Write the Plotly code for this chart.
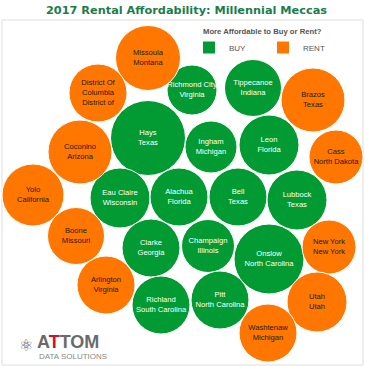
import plotly.graph_objects as go

# ---- data ----
counties = ["Missoula", "District Of<br>Columbia", "Richmond City", "Tippecanoe", "Brazos",
            "Hays", "Ingham", "Leon", "Coconino", "Cass",
            "Yolo", "Eau Claire", "Alachua", "Bell", "Lubbock",
            "Boone", "Clarke", "Champaign", "Onslow", "New York",
            "Arlington", "Richland", "Pitt", "Utah", "Washtenaw"]
states = ["Montana", "District of", "Virginia", "Indiana", "Texas",
          "Texas", "Michigan", "Florida", "Arizona", "North Dakota",
          "California", "Wisconsin", "Florida", "Texas", "Texas",
          "Missouri", "Georgia", "Illinois", "North Carolina", "New York",
          "Virginia", "South Carolina", "North Carolina", "Utah", "Michigan"]
status = ["RENT", "RENT", "BUY", "BUY", "RENT",
          "BUY", "BUY", "BUY", "RENT", "RENT",
          "RENT", "BUY", "BUY", "BUY", "BUY",
          "RENT", "BUY", "BUY", "BUY", "RENT",
          "RENT", "BUY", "BUY", "RENT", "RENT"]
# packed-bubble layout positions (pack units)
pack_x = [148, 98, 192, 253, 313,
          148, 211, 269, 80, 336,
          33, 120, 179, 238, 297,
          76, 151, 208, 269, 329,
          106, 161, 220, 317, 268]
pack_y = [58, 93, 90, 88, 100,
          138, 147, 145, 152, 157,
          195, 198, 197, 197, 200,
          236, 248, 246, 259, 247,
          285, 305, 300, 302, 333]
bubble_value = [1056, 841, 625, 812, 1024,
                1406, 676, 900, 1024, 729,
                961, 900, 841, 841, 900,
                812, 841, 702, 1225, 729,
                841, 841, 841, 900, 841]
legend_groups = ["BUY", "RENT"]

colors = {"BUY": "#029b33", "RENT": "#ff7700"}
text_colors = {"BUY": "#ffffff", "RENT": "#231a12"}

fig = go.Figure()

for grp in legend_groups:
    idx = [i for i, s in enumerate(status) if s == grp]
    fig.add_trace(go.Scatter(
        x=[pack_x[i] for i in idx],
        y=[pack_y[i] for i in idx],
        mode="markers+text",
        text=[counties[i] + "<br>" + states[i] for i in idx],
        textposition="middle center",
        textfont=dict(family="Liberation Sans, Arial", size=7.6, color=text_colors[grp]),
        marker=dict(size=[bubble_value[i] for i in idx], sizemode="area", sizeref=0.5,
                    color=colors[grp], line=dict(color="white", width=1), opacity=1),
        showlegend=False, hoverinfo="text", name=grp,
    ))
for grp in legend_groups:
    fig.add_trace(go.Scatter(
        x=[None], y=[None], mode="markers", name=grp,
        marker=dict(symbol="square", size=11, color=colors[grp]),
        showlegend=True,
    ))

fig.update_layout(
    width=365, height=366,
    margin=dict(l=0, r=0, t=0, b=0, autoexpand=False),
    paper_bgcolor="white", plot_bgcolor="white",
    xaxis=dict(range=[0, 365], visible=False, fixedrange=True),
    yaxis=dict(range=[366, 0], visible=False, fixedrange=True),
    legend=dict(
        orientation="h", x=189 / 365, y=1 - 33 / 366, xanchor="left", yanchor="top",
        font=dict(family="Liberation Sans, Arial", size=8, color="#555555"),
        entrywidth=29, itemwidth=30, bgcolor="rgba(0,0,0,0)",
        tracegroupgap=0, itemsizing="constant",
    ),
    shapes=[dict(type="rect", xref="paper", yref="paper",
                 x0=2 / 365, x1=363 / 365, y0=1 / 366, y1=1 - 20 / 366,
                 line=dict(color="#dddddd", width=1), layer="below")],
    annotations=[
        dict(text="<b>2017 Rental Affordability: Millennial Meccas</b>",
             xref="paper", yref="paper", x=186 / 365, y=1 - 10 / 366, xanchor="center", yanchor="middle",
             showarrow=False, font=dict(family="DejaVu Sans", size=11.3, color="#1b7c4c")),
        dict(text="<b>More Affordable to Buy or Rent?</b>", xref="paper", yref="paper",
             x=201 / 365, y=1 - 32 / 366, xanchor="left", yanchor="middle", showarrow=False,
             font=dict(family="Liberation Sans, Arial", size=7.7, color="#555555")),
        dict(text="⚛", xref="paper", yref="paper", x=26 / 365, y=1 - 345 / 366,
             xanchor="center", yanchor="middle", showarrow=False,
             font=dict(family="DejaVu Sans", size=16, color="#666666")),
        dict(text="<b>A<span style='color:#d0102a'>T</span>TOM</b>", xref="paper", yref="paper",
             x=35 / 365, y=1 - 342 / 366, xanchor="left", yanchor="middle", showarrow=False,
             font=dict(family="Liberation Sans, Arial", size=18, color="#6a6a6a")),
        dict(text="DATA SOLUTIONS", xref="paper", yref="paper",
             x=37 / 365, y=1 - 356 / 366, xanchor="left", yanchor="middle", showarrow=False,
             font=dict(family="Liberation Sans, Arial", size=8, color="#888888")),
    ],
)

fig.write_html("out.html", config={"displayModeBar": False},
               post_script="document.body.style.margin='0';")
